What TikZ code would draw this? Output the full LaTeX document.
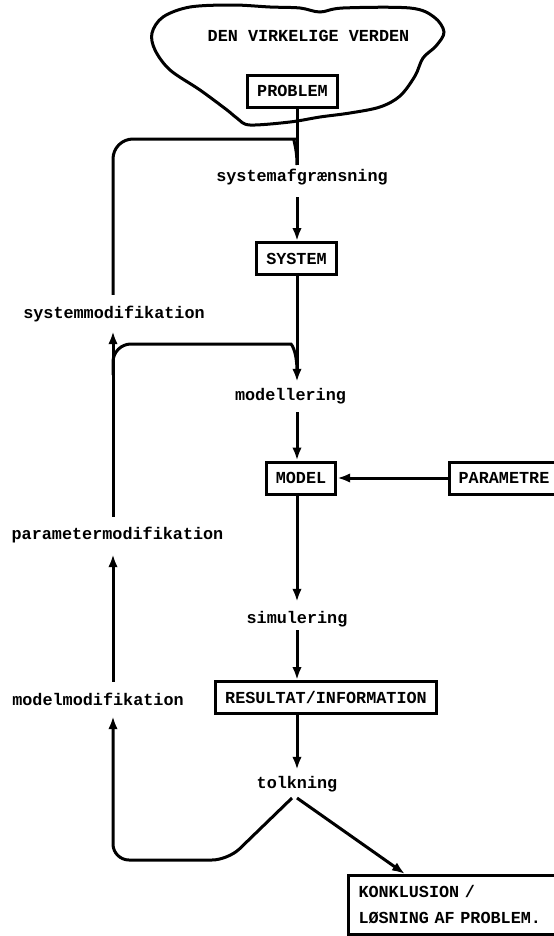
\documentclass[tikz,border=0pt]{standalone}
\usepackage{fontspec}
\setmonofont{Liberation Mono}
\usetikzlibrary{arrows.meta}
\newcommand{\prfont}{\ttfamily\bfseries\fontsize{16.8bp}{26bp}\selectfont}

\tikzset{
  flow/.style={line width=3bp},
  arr/.style={flow, -{Latex[length=13bp,width=9.5bp]}},
  box/.style={draw, line width=3bp, font=\prfont, inner xsep=9.5bp, minimum height=32bp},
  lbl/.style={font=\prfont, inner sep=0pt, text height=12bp, text depth=4bp},
}

\begin{document}
\begin{tikzpicture}[x=1bp, y=-1bp]
\useasboundingbox (0,0) rectangle (554,936);
\coordinate (col) at (297,0);
\coordinate (ret) at (113,0);

% The real world
\draw[flow] plot[smooth cycle, tension=0.55] coordinates {
  (152,33) (163,17) (190,7) (233,5) (270,7) (300,8) (320,12) (343,8)
  (410,8) (434,17) (444,32) (436,46) (423,58) (415,76) (400,96)
  (380,107) (350,113) (320,117) (290,122) (250,125) (238,119) (227,110)
  (200,90) (170,70) (155,50)};
\node[lbl] (verden) at (308.5,37) {DEN VIRKELIGE VERDEN};
\node[box] (problem) at (292.5,91) {PROBLEM};

% Main column
\node[lbl] (afgr) at (302,177) {systemafgrænsning};
\node[box] (system) at (296.5,258.5) {SYSTEM};
\node[lbl] (modellering) at (290.5,396) {modellering};
\node[box] (model) at (301,478) {MODEL};
\node[box] (parametre) at (504,478) {PARAMETRE};
\node[lbl] (simulering) at (297,619) {simulering};
\node[box] (resultat) at (326,697.5) {RESULTAT/INFORMATION};
\node[lbl] (tolkning) at (297,784) {tolkning};
\node[box, anchor=north west, align=left, text width=195bp, inner xsep=10bp,
  minimum height=59bp] (konklusion) at (347,874)
  {KONKLUSION /\\LØSNING AF PROBLEM.};

% Return column
\node[lbl] (sysmod) at (114,314) {systemmodifikation};
\node[lbl] (parmod) at (117.5,535) {parametermodifikation};
\node[lbl] (modmod) at (98,701) {modelmodifikation};

% Junctions
\coordinate (j1) at (297,165);
\coordinate (j2) at (297,372);
\coordinate (b2) at (113,375);
\coordinate (fork) at (297,798);

% Forward flow
\draw[flow] (problem.south -| col) -- (j1);
\draw[arr, shorten <=12bp] (afgr.south -| col) -- (system.north -| col);
\draw[arr, shorten >=6bp] (system.south -| col) -- (modellering.north -| col);
\draw[arr, shorten <=8bp] (modellering.south -| col) -- (model.north -| col);
\draw[arr] (parametre.west) -- (model.east);
\draw[arr, shorten >=9bp] (model.south -| col) -- (simulering.north -| col);
\draw[arr, shorten <=3bp] (simulering.south -| col) -- (resultat.north -| col);
\draw[arr, shorten >=6bp] (resultat.south -| col) -- (tolkning.north -| col);
\draw[arr] (fork) -- ([xshift=58bp]konklusion.north west);

% Feedback loops
\draw[arr, rounded corners=16bp, shorten >=7bp]
  ([xshift=-5bp]fork) -- (228,860) -- (113,860) -- (modmod.south -| ret);
\draw[arr, shorten <=11bp, shorten >=11bp] (modmod.north -| ret) -- (parmod.south -| ret);
\draw[arr, shorten <=10bp, shorten >=9bp] (parmod.north -| ret) -- (sysmod.south -| ret);
\draw[flow, rounded corners=18bp] (b2) |- (273,344) [sharp corners]
  .. controls (291,344) and (297,350) .. (j2);
\draw[flow, rounded corners=20bp, shorten <=11bp] (sysmod.north -| ret) |- (275,139)
  [sharp corners] .. controls (292,139) and (297,145) .. (j1);

\end{tikzpicture}
\end{document}
